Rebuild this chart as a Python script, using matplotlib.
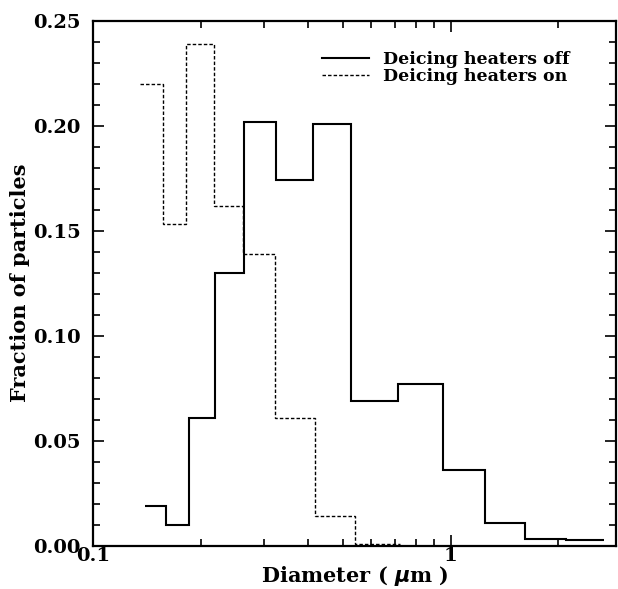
import numpy as np
import matplotlib
matplotlib.use("Agg")
import matplotlib.pyplot as plt
from matplotlib.ticker import FixedLocator, NullFormatter, FixedFormatter

# Data: bin edges (µm) and fractions
off_edges = [0.140, 0.160, 0.186, 0.219, 0.264, 0.324, 0.411, 0.528, 0.713, 0.952, 1.25, 1.61, 2.10, 2.69]
off_values = [0.019, 0.010, 0.061, 0.130, 0.202, 0.174, 0.201, 0.069, 0.077, 0.036, 0.011, 0.003, 0.0025]

on_edges = [0.135, 0.157, 0.182, 0.218, 0.263, 0.322, 0.417, 0.539, 0.720]
on_values = [0.220, 0.153, 0.239, 0.162, 0.139, 0.061, 0.014, 0.001]

labels = ["Deicing heaters off", "Deicing heaters on"]
x_major = [0.1, 1]
x_major_labels = ["0.1", "1"]
x_minor = [0.2, 0.3, 0.4, 0.5, 0.6, 0.7, 0.8, 0.9, 2]
y_major = [0.00, 0.05, 0.10, 0.15, 0.20, 0.25]

plt.rcParams['font.family'] = ['DejaVu Serif']
plt.rcParams['font.weight'] = 'bold'

fig = plt.figure(figsize=(6.18, 5.89), dpi=100)
ax = fig.add_axes([93/618, 1 - 545.7/589, (616 - 93)/618, (545.7 - 20.7)/589])

ax.stairs(off_values, off_edges, color='black', linewidth=1.5, label=labels[0], baseline=None)
ax.stairs(on_values, on_edges, color='black', linewidth=1.0, linestyle=(0, (2.5, 1.5)),
          label=labels[1], baseline=None)

ax.set_xscale('log')
ax.set_xlim(0.1, 2.9)
ax.set_ylim(0, 0.25)

ax.xaxis.set_major_locator(FixedLocator(x_major))
ax.xaxis.set_major_formatter(FixedFormatter(x_major_labels))
ax.xaxis.set_minor_locator(FixedLocator(x_minor))
ax.xaxis.set_minor_formatter(NullFormatter())
ax.yaxis.set_major_locator(FixedLocator(y_major))
ax.yaxis.set_minor_locator(FixedLocator(np.round(np.arange(0, 0.251, 0.01), 3)))
ax.yaxis.set_major_formatter(matplotlib.ticker.FormatStrFormatter('%.2f'))

ax.tick_params(which='both', direction='in', top=True, right=True, labelsize=14, width=1.2)
ax.tick_params(which='major', length=8)
ax.tick_params(which='minor', length=5)
ax.tick_params(axis='x', which='major', pad=1)
ax.tick_params(axis='y', which='major', pad=9)
for lab in ax.get_xticklabels() + ax.get_yticklabels():
    lab.set_fontweight('bold')

for s in ax.spines.values():
    s.set_linewidth(1.6)

ax.set_xlabel("Diameter ( $\\mu$m )", fontsize=15, fontweight='bold', labelpad=-1)
ax.set_ylabel("Fraction of particles", fontsize=15, fontweight='bold', labelpad=2)

leg = ax.legend(loc='upper right', bbox_to_anchor=(0.935, 0.965), frameon=False,
                prop={'size': 12.5, 'weight': 'bold'}, handlelength=2.7,
                handletextpad=0.8, labelspacing=0.0, borderpad=0.2)

fig.savefig("out.png", dpi=100)
